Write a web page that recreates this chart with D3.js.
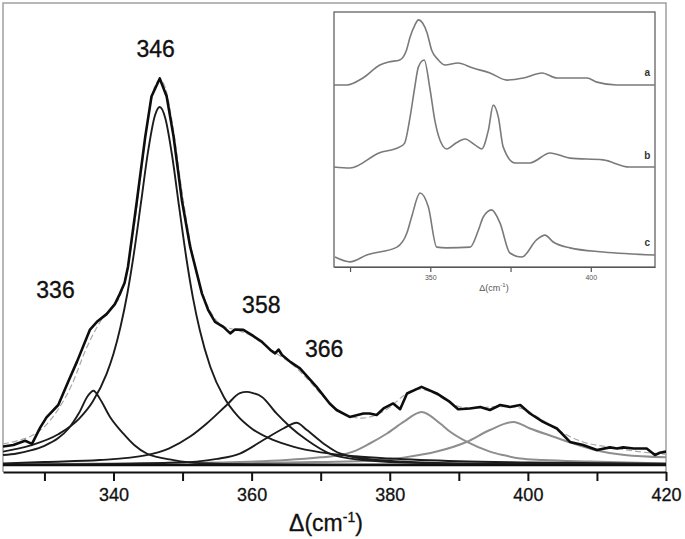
<!DOCTYPE html>
<html>
<head>
<meta charset="utf-8">
<script src="https://cdnjs.cloudflare.com/ajax/libs/d3/7.8.5/d3.min.js"></script>
<style>
body { margin: 0; background: #fff; }
svg { display: block; font-family: "Liberation Sans", Arial, sans-serif; }
</style>
</head>
<body>
<div id="chart"></div>
<script>
// Raman shift (cm-1) / intensity pairs
const expData = [[324,4.8],[325.5,5.2],[327.2,6.3],[328.2,5.5],[329.4,9.8],[330.3,12.4],[332,15.6],[333.5,21.9],[334.7,26.8],[336.6,35.2],[337.6,37.2],[339,39.2],[340.2,41.8],[340.9,44.4],[341.6,47.3],[342.1,51.5],[343.4,68.8],[344.6,85.3],[345.5,95.7],[346.7,100.4],[347.7,95.7],[348.7,85.3],[349.9,68.8],[351.1,56.7],[352.8,44.6],[353.7,40.3],[354.7,37.2],[355.9,35.9],[356.9,34.2],[357.6,35.2],[358.8,35.1],[360,33.8],[361.5,32],[362.7,29.9],[363.4,29],[363.9,30],[364.4,28.6],[365.6,26.8],[367,25.1],[369.4,20.3],[371.3,16],[372.3,14.3],[374.2,12.5],[376.2,13.4],[377.1,13.4],[378.1,13],[379.1,14.7],[380.5,16],[381.5,14.5],[382.5,18.6],[384.6,20.3],[386.8,18.6],[388.7,16.4],[389.9,14.5],[391.6,14.7],[393.1,15.1],[394.5,14.3],[396,15.6],[397.4,15.1],[398.9,15.6],[400.3,13.4],[402.2,11.2],[404.2,9.5],[406.1,6],[408,5.2],[410,3.9],[411.9,4.6],[412.9,4.3],[413.8,4.6],[415.3,4.3],[417.2,4.3],[418.4,2.6],[419.1,3.2],[420,3.5]];

const fitData = [[324,5.5],[326,6.3],[328,7.5],[330,10],[332,14.5],[334,21],[336,30],[338,37],[340,41.5],[341,44],[342,51],[343,62],[344,76],[345,90],[346,98.5],[346.7,100],[347.5,98],[348.5,89],[350,70],[352,50],[354,40],[356,36],[358,35],[360,33.5],[362,31],[364,28.5],[366,26],[368,22.5],[370,18.5],[372,15],[374,12.8],[376,12.2],[378,13],[380,15],[382,18],[384,19.8],[386,19],[388,17],[390,15.2],[392,14.8],[394,15],[396,15.2],[398,15.1],[400,14],[402,11.8],[404,9.5],[406,7.5],[408,6],[412,4.6],[416,3.5],[420,2.8]];

const comp336 = [[324,2.6],[326,3],[328,3.8],[330,5],[332,7],[333.5,9.5],[335,13.5],[336.3,18],[337.1,19.3],[338,17.3],[339.5,12.5],[341.4,8.2],[343,5.2],[344.8,3],[348.7,1.3],[352.5,0.5],[360,0.25],[380,0.15],[420,0.1]];
const comp346 = [[324,3.5],[328,5.1],[332,8],[335,12],[337,16.5],[339,23.7],[340,28.9],[341,35.8],[342,44.5],[343,55.5],[344,68.4],[345,81.4],[346,90.8],[346.7,93],[347.5,90.1],[348.5,80.2],[349.5,67.1],[350.5,54.3],[351.5,43.5],[352.5,35],[354,25.6],[356,17.6],[358,12.7],[360,9.5],[363,6.6],[366,4.8],[370,3.3],[375,2.3],[380,1.7],[390,1],[400,0.7],[420,0.35]];
const comp358 = [[324,0.4],[330,0.8],[338,1.3],[344.8,2.6],[348,4.3],[351.1,7.4],[353.5,10.8],[356.4,15.6],[358.3,18.7],[359.3,19],[360.2,18.7],[361.5,17.7],[363.6,13.4],[365.6,9.9],[368,6.5],[371.3,3],[376.2,1.3],[385,0.5],[400,0.2],[420,0.1]];
const comp366 = [[324,0.1],[340,0.3],[348,0.6],[352,0.9],[355,1.6],[358.3,3],[361.7,6.5],[364.6,9.5],[366.5,11],[368,9.1],[370.4,5.6],[372.8,3],[378.1,1.3],[390,0.4],[420,0.1]];
const comp384 = [[324,0.2],[350,0.5],[365,1.3],[370,2],[372.8,2.6],[374.7,3.5],[377.1,5.6],[379.6,8.2],[382,11.2],[384.6,13.8],[387.3,10.8],[388.7,8.7],[391.2,6],[394.5,3.5],[396.4,2.6],[398.9,1.7],[402.2,1.3],[409,0.9],[420,0.4]];
const comp398 = [[324,0.2],[360,0.5],[370,0.8],[377.4,1.1],[382.2,2],[386.8,3.5],[391.1,6],[394.5,9.1],[397.9,11.2],[400.3,9.5],[403.5,7.5],[406.6,5.6],[410,3.8],[414,2.6],[420,2]];
const baseline = [[324,0],[420,0]];

const peakLabels = [
  { text: "336", x: 331.6, y: 43.4 },
  { text: "346", x: 346.1, y: 106 },
  { text: "358", x: 361.4, y: 39.5 },
  { text: "366", x: 370.5, y: 28.1 }
];
const xTicks = [330, 340, 350, 360, 370, 380, 390, 400, 410, 420];
const xTickLabels = [340, 360, 380, 400, 420];

// inset spectra a, b, c
const insetA = [[320,71.4],[324,71.4],[329,74.1],[334.3,79.2],[337,80.4],[340.5,81.2],[342.6,85.1],[343.7,90.2],[345.2,94.9],[346.3,96.9],[347.6,95.7],[349,91.8],[350.4,85.1],[352.5,81.2],[354.6,79.2],[358.6,80],[363.3,78],[368.6,76.1],[373.9,73.3],[379,74.1],[384.8,76.1],[389.5,74.1],[398.8,74.1],[401.9,72.5],[408,71.4],[420,71.4]];
const insetB = [[320,39.2],[325,38.8],[334,44.7],[340.5,47.1],[342,48.6],[343.7,58.8],[345.1,70],[346.3,78.5],[348.1,81.2],[349.9,69.8],[351.4,57.6],[353,49.8],[355.1,46.3],[358,48.6],[360.8,50.2],[364,47.8],[366,46.3],[368.1,53.7],[369.6,63.5],[371.2,58.8],[372.7,47.1],[376.4,40.8],[381,40.8],[387.3,44.7],[393.5,42.7],[403.8,42],[412,39.2],[420,39.2]];
const insetC = [[320.3,3.9],[325,2],[330.2,4.7],[339.6,7.8],[342.7,13.3],[344.2,19.7],[346.8,29],[349.4,23.5],[352,7.8],[355.1,7.5],[362.4,7.8],[365,14.5],[366.5,19.6],[369.1,22.4],[371.7,17.3],[374.8,5.5],[378.5,3.9],[383.1,10.6],[385.7,12.5],[388.3,9.8],[393.5,7.5],[403.9,5.9],[420,4.7]];
const insetNames = [{ text: "a", y: 75 }, { text: "b", y: 42.5 }, { text: "c", y: 8.4 }];
const insetTicks = [325, 350, 375, 400];
const insetTickLabels = [350, 400];

function init() {
    var w = 685, h = 539;
    var left = 3, right = 666, top = 3, bottom = 472;

    var svg = d3.select("#chart").append("svg")
        .attr("width", w)
        .attr("height", h);

    var x = d3.scaleLinear().domain([324, 420]).range([left, right]);
    var y = d3.scaleLinear().domain([-1.8, 120]).range([bottom, top]);

    svg.append("clipPath").attr("id", "plotClip")
        .append("rect").attr("x", left).attr("y", top)
        .attr("width", right - left).attr("height", bottom - top);

    //gray frame on left, top and right
    svg.append("path")
        .attr("d", `M${left},${bottom} V${top} H${right} V${bottom}`)
        .attr("fill", "none")
        .attr("stroke", "#a0a0a0")
        .attr("stroke-width", 1.5);

    var line = d3.line().x(d => x(d[0])).y(d => y(d[1])).curve(d3.curveMonotoneX);
    var plot = svg.append("g").attr("clip-path", "url(#plotClip)");

    // fitted components
    [comp384, comp398].forEach(c => {
        plot.append("path").datum(c).attr("d", line)
            .attr("fill", "none").attr("stroke", "#8e8e8e").attr("stroke-width", 2);
    });
    [comp336, comp346, comp358, comp366].forEach(c => {
        plot.append("path").datum(c).attr("d", line)
            .attr("fill", "none").attr("stroke", "#1c1c1c").attr("stroke-width", 1.9);
    });
    plot.append("path").datum(baseline).attr("d", line)
        .attr("fill", "none").attr("stroke", "#111").attr("stroke-width", 2.2);

    // total fit (dashed) under the measured spectrum
    plot.append("path").datum(fitData).attr("d", line)
        .attr("fill", "none").attr("stroke", "#a8a8a8")
        .attr("stroke-width", 1.2).attr("stroke-dasharray", "6,3");

    plot.append("path").datum(expData)
        .attr("d", d3.line().x(d => x(d[0])).y(d => y(d[1])))
        .attr("fill", "none").attr("stroke", "#0d0d0d")
        .attr("stroke-width", 2.6).attr("stroke-linejoin", "round");

    //peak labels
    svg.selectAll(".peak-label").data(peakLabels).enter()
        .append("text").attr("class", "peak-label")
        .attr("x", d => x(d.x)).attr("y", d => y(d.y))
        .attr("text-anchor", "middle")
        .attr("font-size", 23).attr("fill", "#111")
        .attr("stroke", "#111").attr("stroke-width", 0.35)
        .text(d => d.text);

    //x axis
    var xAxis = svg.append("g").attr("transform", `translate(0,${bottom})`)
        .call(d3.axisBottom(x).tickValues(xTicks).tickSize(9).tickSizeOuter(0)
            .tickFormat(d => xTickLabels.includes(d) ? d : ""));
    xAxis.select(".domain").attr("stroke", "#111").attr("stroke-width", 2.2);
    xAxis.selectAll(".tick line").attr("stroke", "#111").attr("stroke-width", 2);
    xAxis.selectAll(".tick text")
        .attr("font-size", 18).attr("font-family", "Liberation Sans, Arial, sans-serif")
        .attr("fill", "#111").attr("stroke", "#111").attr("stroke-width", 0.3)
        .attr("y", 16);

    var title = svg.append("text")
        .attr("x", 326).attr("y", 531)
        .attr("text-anchor", "middle")
        .attr("font-size", 23).attr("fill", "#111")
        .attr("stroke", "#111").attr("stroke-width", 0.3);
    title.append("tspan").text("Δ(cm");
    title.append("tspan").attr("font-size", 14).attr("dy", -9).text("-1");
    title.append("tspan").attr("dy", 9).text(")");

    // inset
    var ix = d3.scaleLinear().domain([320, 420]).range([334, 655]);
    var iy = d3.scaleLinear().domain([0, 100]).range([267, 12]);
    var inset = svg.append("g");

    inset.append("rect")
        .attr("x", 334).attr("y", 12).attr("width", 655 - 334).attr("height", 267 - 12)
        .attr("fill", "#fff").attr("stroke", "#555").attr("stroke-width", 1.2);

    var iline = d3.line().x(d => ix(d[0])).y(d => iy(d[1])).curve(d3.curveMonotoneX);
    [insetA, insetB, insetC].forEach(s => {
        inset.append("path").datum(s).attr("d", iline)
            .attr("fill", "none").attr("stroke", "#7a7a7a").attr("stroke-width", 1.6);
    });

    inset.selectAll(".inset-name").data(insetNames).enter()
        .append("text").attr("class", "inset-name")
        .attr("x", ix(417.6)).attr("y", d => iy(d.y))
        .attr("text-anchor", "middle").attr("font-size", 10).attr("font-weight", "bold")
        .attr("fill", "#333").text(d => d.text);

    var iAxis = inset.append("g").attr("transform", "translate(0,267)")
        .call(d3.axisBottom(ix).tickValues(insetTicks).tickSize(5).tickSizeOuter(0)
            .tickFormat(d => insetTickLabels.includes(d) ? d : ""));
    iAxis.select(".domain").attr("stroke", "#555").attr("stroke-width", 1.2);
    iAxis.selectAll(".tick line").attr("stroke", "#555").attr("stroke-width", 1.2);
    iAxis.selectAll(".tick text").attr("font-size", 7).attr("fill", "#555")
        .attr("font-family", "Liberation Sans, Arial, sans-serif").attr("y", 8);

    var ititle = inset.append("text")
        .attr("x", 494).attr("y", 291)
        .attr("text-anchor", "middle").attr("font-size", 9).attr("fill", "#555");
    ititle.append("tspan").text("Δ(cm");
    ititle.append("tspan").attr("font-size", 6).attr("dy", -4).text("-1");
    ititle.append("tspan").attr("dy", 4).text(")");
}

window.onload = init;
</script>
</body>
</html>
